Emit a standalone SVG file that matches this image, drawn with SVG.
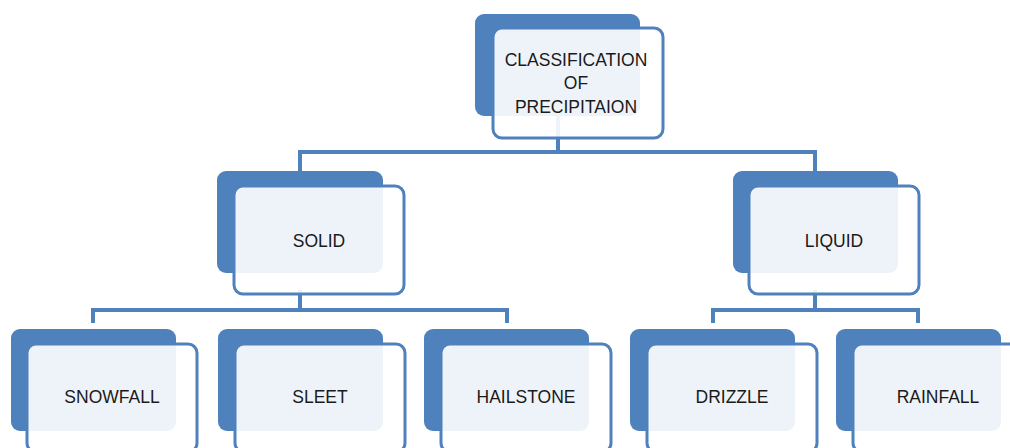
<svg xmlns="http://www.w3.org/2000/svg" width="1010" height="448" viewBox="0 0 1010 448">
<style>
.back{fill:#4f81bd;}
.front{fill:#ffffff;fill-opacity:0.9;stroke:#4f81bd;stroke-width:3;}
.lbl{font-family:"Liberation Sans",Arial,sans-serif;font-size:17.5px;fill:#1a1a1a;text-anchor:middle;}
.conn{fill:none;stroke:#4f81bd;stroke-width:4;}
</style>
<rect width="1010" height="448" fill="#ffffff"/>
<g id="connectors">
<path class="conn" d="M558 115 V152"/>
<path class="conn" d="M300 171 V152 H815 V171"/>
<path class="conn" d="M300 290 V310"/>
<path class="conn" d="M93 323 V310 H507 V323"/>
<path class="conn" d="M815 290 V310"/>
<path class="conn" d="M713 323 V310 H918 V323"/>
</g>
<g id="node-classification">
<rect class="back" x="475" y="14" width="165" height="102" rx="9"/>
<rect class="front" x="493" y="28" width="170" height="110" rx="9"/>
<text class="lbl" x="576" y="66">CLASSIFICATION</text>
<text class="lbl" x="576" y="89">OF</text>
<text class="lbl" x="576" y="113">PRECIPITAION</text>
</g>
<g id="node-solid">
<rect class="back" x="217" y="171" width="166" height="102" rx="9"/>
<rect class="front" x="234" y="186" width="170" height="108" rx="9"/>
<text class="lbl" x="319" y="247">SOLID</text>
</g>
<g id="node-liquid">
<rect class="back" x="733" y="171" width="165" height="102" rx="9"/>
<rect class="front" x="749" y="186" width="170" height="108" rx="9"/>
<text class="lbl" x="834" y="247">LIQUID</text>
</g>
<g id="node-snowfall">
<rect class="back" x="11" y="329" width="165" height="102" rx="9"/>
<rect class="front" x="27" y="344" width="170" height="108" rx="9"/>
<text class="lbl" x="112" y="403">SNOWFALL</text>
</g>
<g id="node-sleet">
<rect class="back" x="218" y="329" width="165" height="102" rx="9"/>
<rect class="front" x="235" y="344" width="170" height="108" rx="9"/>
<text class="lbl" x="320" y="403">SLEET</text>
</g>
<g id="node-hailstone">
<rect class="back" x="424" y="329" width="165" height="102" rx="9"/>
<rect class="front" x="441" y="344" width="170" height="108" rx="9"/>
<text class="lbl" x="526" y="403">HAILSTONE</text>
</g>
<g id="node-drizzle">
<rect class="back" x="630" y="329" width="165" height="102" rx="9"/>
<rect class="front" x="647" y="344" width="170" height="108" rx="9"/>
<text class="lbl" x="732" y="403">DRIZZLE</text>
</g>
<g id="node-rainfall">
<rect class="back" x="836" y="329" width="165" height="102" rx="9"/>
<rect class="front" x="853" y="344" width="170" height="108" rx="9"/>
<text class="lbl" x="938" y="403">RAINFALL</text>
</g>
</svg>
